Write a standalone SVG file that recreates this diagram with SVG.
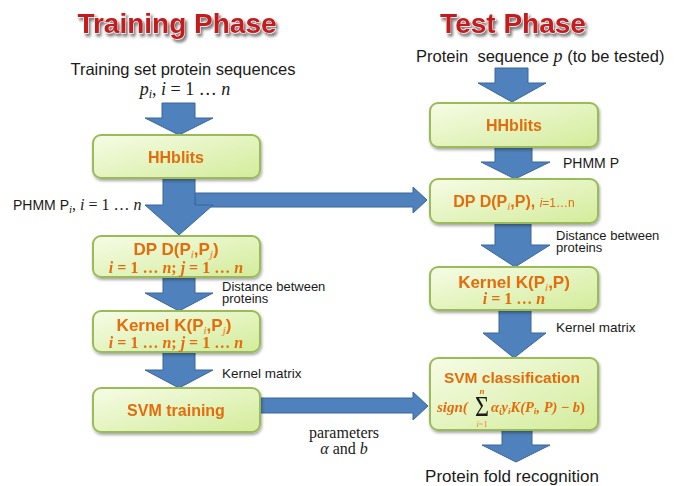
<svg xmlns="http://www.w3.org/2000/svg" width="686" height="486" viewBox="0 0 686 486">
  <defs>
    <linearGradient id="boxFill" x1="0" y1="0" x2="1" y2="1">
      <stop offset="0" stop-color="#F6FCE6"/>
      <stop offset="1" stop-color="#D3EC9A"/>
    </linearGradient>
    <filter id="boxShadow" x="-10%" y="-20%" width="120%" height="150%">
      <feGaussianBlur in="SourceAlpha" stdDeviation="1.5"/>
      <feOffset dx="1" dy="2" result="b"/>
      <feComponentTransfer><feFuncA type="linear" slope="0.35"/></feComponentTransfer>
      <feMerge><feMergeNode/><feMergeNode in="SourceGraphic"/></feMerge>
    </filter>
    <filter id="titleShadow" x="-10%" y="-30%" width="120%" height="170%">
      <feGaussianBlur in="SourceAlpha" stdDeviation="1.6"/>
      <feOffset dx="1.5" dy="2.5"/>
      <feComponentTransfer><feFuncA type="linear" slope="0.55"/></feComponentTransfer>
      <feMerge><feMergeNode/><feMergeNode in="SourceGraphic"/></feMerge>
    </filter>
  </defs>
  <style>
    .title { font-family: "Liberation Sans", Arial, sans-serif; font-weight: bold; font-size: 28px; fill: #C41A1F; stroke: #ffffff; stroke-width: 0.8; paint-order: stroke; }
    .lbl { font-family: "Liberation Sans", Arial, sans-serif; font-size: 16.5px; fill: #1a1a1a; }
    .sm { font-family: "Liberation Sans", Arial, sans-serif; font-size: 13.5px; fill: #1a1a1a; }
    .math { font-family: "Liberation Serif", "Times New Roman", serif; fill: #1a1a1a; }
    .it { font-style: italic; }
    .box { fill: url(#boxFill); stroke: #9BBB59; stroke-width: 2; }
    .bt { font-family: "Liberation Sans", Arial, sans-serif; font-weight: bold; font-size: 16px; fill: #E46C0A; }
    .bm { font-family: "Liberation Serif", "Times New Roman", serif; font-weight: bold; font-style: italic; font-size: 16px; fill: #E46C0A; }
    .sub { font-family: "Liberation Serif", "Times New Roman", serif; font-style: italic; font-size: 11px; fill: #F39A4A; }
    .arrow { fill: #4F81BD; stroke: #3A6699; stroke-width: 1; stroke-linejoin: miter; }
  </style>

  <!-- phase titles -->
  <g id="titles" filter="url(#titleShadow)">
    <text class="title" x="177" y="33" text-anchor="middle">Training Phase</text>
    <text class="title" x="513" y="33" text-anchor="middle">Test Phase</text>
  </g>

  <!-- block arrows -->
  <g id="connectors">
    <!-- training column -->
    <polygon class="arrow" points="162,103 195,103 195,118 213,118 179,135 145,118 162,118"/>
    <polygon class="arrow" points="195,193 413,193 413,187 427,200 413,213 413,207 195,207"/>
    <polygon class="arrow" points="163,178 195,178 195,205 213,205 179,235 145,205 163,205"/>
    <polygon class="arrow" points="163,277 195,277 195,293 213,293 179,311 145,293 163,293"/>
    <polygon class="arrow" points="163,352 195,352 195,370 213,370 179,388 145,370 163,370"/>
    <polygon class="arrow" points="258,398 413,398 413,392 428,406 413,420 413,413 258,413"/>
    <!-- test column -->
    <polygon class="arrow" points="495,68 528,68 528,83 546,83 512,102 478,83 495,83"/>
    <polygon class="arrow" points="495,146 532,146 532,162 550,162 515,179 481,162 495,162"/>
    <polygon class="arrow" points="495,222 531,222 531,245 550,245 515,267 481,245 495,245"/>
    <polygon class="arrow" points="499,309 531,309 531,333 546,333 514,358 483,333 499,333"/>
    <polygon class="arrow" points="502,429 532,429 532,445 550,445 516,462 482,445 502,445"/>
  </g>

  <!-- free labels -->
  <g id="labels">
    <text class="lbl" x="183" y="75" text-anchor="middle">Training set protein sequences</text>
    <text class="math" x="185" y="95" style="font-size:18px" text-anchor="middle"><tspan class="it">p</tspan><tspan class="it" font-size="12" dy="3">i</tspan><tspan dy="-3">, </tspan><tspan class="it">i</tspan> = 1 … <tspan class="it">n</tspan></text>
    <text class="lbl" x="416" y="62" xml:space="preserve">Protein  sequence <tspan class="math it" style="font-size:18px">p</tspan> (to be tested)</text>
    <text class="sm" x="13" y="210" style="font-size:14px">PHMM P<tspan class="math it" font-size="11" dy="3">i</tspan><tspan class="math" font-size="16" dy="-3">, <tspan class="it">i</tspan> = 1 … <tspan class="it">n</tspan></tspan></text>
    <text class="sm" x="563" y="168" style="font-size:14px">PHMM P</text>
    <text class="sm" x="222" y="291" style="font-size:13px">Distance between</text>
    <text class="sm" x="222" y="303" style="font-size:13px">proteins</text>
    <text class="sm" x="556" y="240" style="font-size:13px">Distance between</text>
    <text class="sm" x="556" y="252" style="font-size:13px">proteins</text>
    <text class="sm" x="222" y="378">Kernel matrix</text>
    <text class="sm" x="556" y="332">Kernel matrix</text>
    <text class="math" x="344" y="438" style="font-size:16px" text-anchor="middle">parameters</text>
    <text class="math" x="344" y="454" style="font-size:16px" text-anchor="middle"><tspan class="it">α</tspan> and <tspan class="it">b</tspan></text>
    <text class="lbl" x="512" y="482" style="font-size:17px" text-anchor="middle">Protein fold recognition</text>
  </g>

  <!-- training column nodes -->
  <g id="train-hhblits" filter="url(#boxShadow)">
    <rect class="box" x="93" y="135" width="167" height="43" rx="8"/>
    <text class="bt" x="176" y="163" text-anchor="middle">HHblits</text>
  </g>
  <g id="train-dp" filter="url(#boxShadow)">
    <rect class="box" x="93" y="236" width="167" height="41" rx="8"/>
    <text class="bt" x="176" y="255" style="font-size:17px" text-anchor="middle">DP D(P<tspan class="sub" dy="3">i</tspan><tspan dy="-3">,P</tspan><tspan class="sub" dy="3">j</tspan><tspan dy="-3">)</tspan></text>
    <text class="bm" x="176" y="273" text-anchor="middle">i <tspan font-style="normal">= 1 … </tspan>n<tspan font-style="normal">; </tspan>j <tspan font-style="normal">= 1 … </tspan>n</text>
  </g>
  <g id="train-kernel" filter="url(#boxShadow)">
    <rect class="box" x="93" y="311" width="167" height="41" rx="8"/>
    <text class="bt" x="174" y="331" style="font-size:17px" text-anchor="middle">Kernel K(P<tspan class="sub" dy="3">i</tspan><tspan dy="-3">,P</tspan><tspan class="sub" dy="3">j</tspan><tspan dy="-3">)</tspan></text>
    <text class="bm" x="176" y="348" text-anchor="middle">i <tspan font-style="normal">= 1 … </tspan>n<tspan font-style="normal">; </tspan>j <tspan font-style="normal">= 1 … </tspan>n</text>
  </g>
  <g id="train-svm" filter="url(#boxShadow)">
    <rect class="box" x="93" y="388" width="167" height="44" rx="8"/>
    <text class="bt" x="176" y="416" text-anchor="middle">SVM training</text>
  </g>

  <!-- test column nodes -->
  <g id="test-hhblits" filter="url(#boxShadow)">
    <rect class="box" x="430" y="103" width="168" height="44" rx="8"/>
    <text class="bt" x="514" y="131" text-anchor="middle">HHblits</text>
  </g>
  <g id="test-dp" filter="url(#boxShadow)">
    <rect class="box" x="430" y="179" width="168" height="44" rx="8"/>
    <text class="bt" x="514" y="207" text-anchor="middle">DP D(P<tspan class="sub" dy="3">i</tspan><tspan dy="-3">,P), </tspan><tspan font-size="12" font-style="italic" font-weight="normal">i</tspan><tspan font-size="12" font-weight="normal">=1…n</tspan></text>
  </g>
  <g id="test-kernel" filter="url(#boxShadow)">
    <rect class="box" x="430" y="267" width="168" height="43" rx="8"/>
    <text class="bt" x="514" y="288" style="font-size:17px" text-anchor="middle">Kernel K(P<tspan class="sub" dy="3">i</tspan><tspan dy="-3">,P)</tspan></text>
    <text class="bm" x="514" y="304" text-anchor="middle">i <tspan font-style="normal">= 1 … </tspan>n</text>
  </g>
  <g id="test-svm" filter="url(#boxShadow)">
    <rect class="box" x="430" y="358" width="168" height="72" rx="8"/>
    <text class="bt" x="512" y="383" text-anchor="middle" style="font-size:15.5px">SVM classification</text>
    <!-- decision function: sign(sum_{i=1}^{n} a_i y_i K(P_i,P) - b) -->
    <text class="bm" x="437" y="412" style="font-size:15px">sign(</text>
    <text class="math" x="475" y="416" style="font-size:30px" fill="#E46C0A" textLength="14" lengthAdjust="spacingAndGlyphs">Σ</text>
    <text class="bm" x="482" y="394" style="font-size:9px" text-anchor="middle">n</text>
    <text class="bm" x="482" y="427" style="font-size:8px;fill:#F0A060" text-anchor="middle">i<tspan font-style="normal">=1</tspan></text>
    <text class="bm" x="491" y="412" style="font-size:14.5px">α<tspan font-size="9" dy="2">i</tspan><tspan dy="-2">y</tspan><tspan font-size="9" dy="2">i</tspan><tspan dy="-2">K(P</tspan><tspan font-size="9" dy="2">i</tspan><tspan dy="-2">, P) </tspan><tspan font-style="normal">−</tspan> b<tspan font-style="normal">)</tspan></text>
  </g>
</svg>
